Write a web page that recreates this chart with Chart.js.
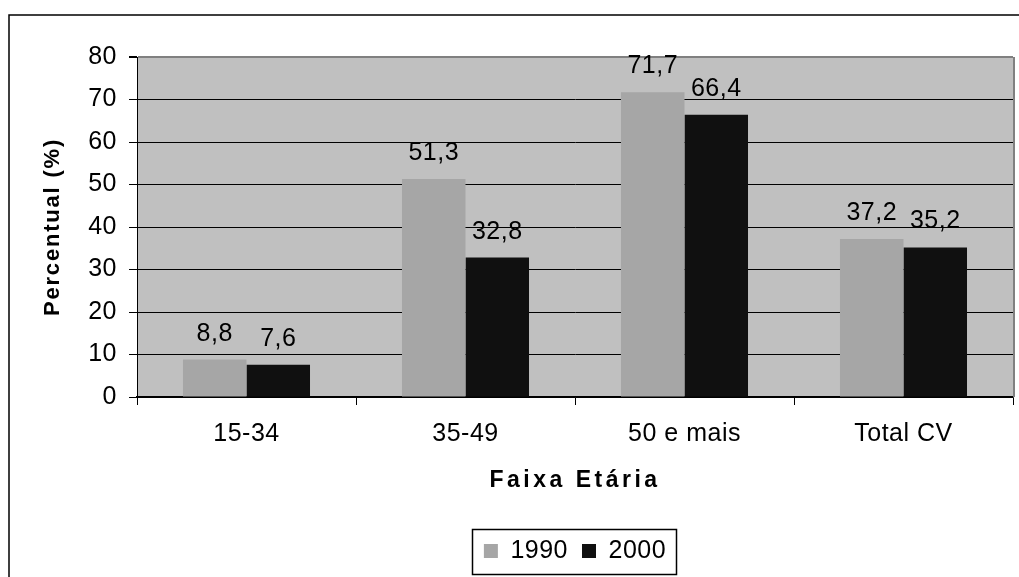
<!DOCTYPE html>
<html>
<head>
<meta charset="utf-8">
<title>Percentual por faixa etária</title>
<script src="https://cdn.jsdelivr.net/npm/chart.js@4.4.1/dist/chart.umd.min.js"></script>
<style>
  body { margin: 0; background: #fff; }
  canvas { display: block; }
</style>
</head>
<body>
<canvas id="myChart" width="1019" height="577"></canvas>
<script>
// Data
const categories = ['15-34', '35-49', '50 e mais', 'Total CV'];
const values1990 = [8.8, 51.3, 71.7, 37.2];
const values2000 = [7.6, 32.8, 66.4, 35.2];
const seriesNames = ['1990', '2000'];
const yTicks = [0, 10, 20, 30, 40, 50, 60, 70, 80];

const FONT = "'Liberation Sans', Arial, sans-serif";
const TEXT_SPACING = '0.5px';

Chart.defaults.font.family = FONT;
Chart.defaults.color = '#000';

// Backgrounds, frame, legend box and letter spacing
const framePlugin = {
    id: 'frame',
    beforeLayout(chart) {
        chart.ctx.letterSpacing = TEXT_SPACING;
    },
    afterLayout(chart) {
        const area = chart.chartArea;
        // centre the legend under the plot area, like the original
        chart.legend.left = area.left;
        chart.legend.right = area.right;

        [['x', '3.5px'], ['y', '1.8px']].forEach(([id, sp]) => {
            const s = chart.scales[id];
            if (s && !s._spaced) {
                const orig = s.drawTitle;
                s.drawTitle = function () {
                    const c = this.ctx;
                    const prev = c.letterSpacing;
                    c.letterSpacing = sp;
                    orig.call(this);
                    c.letterSpacing = prev;
                };
                s._spaced = true;
            }
        });
    },
    beforeDraw(chart) {
        const ctx = chart.ctx;
        const a = chart.chartArea;
        ctx.save();
        ctx.fillStyle = '#fff';
        ctx.fillRect(0, 0, chart.width, chart.height);
        // outer frame (top and left edges are visible)
        ctx.strokeStyle = '#000';
        ctx.lineWidth = 1.5;
        ctx.beginPath();
        ctx.moveTo(9, chart.height);
        ctx.lineTo(9, 15);
        ctx.lineTo(chart.width, 15);
        ctx.stroke();
        // plot area
        ctx.fillStyle = '#c0c0c0';
        ctx.fillRect(a.left, a.top, a.right - a.left, a.bottom - a.top);
        ctx.restore();
        ctx.letterSpacing = TEXT_SPACING;
    },
    beforeDatasetsDraw(chart) {
        const ctx = chart.ctx;
        const a = chart.chartArea;
        ctx.save();
        ctx.strokeStyle = '#808080';
        ctx.lineWidth = 2;
        ctx.beginPath();
        ctx.moveTo(a.right + 1, a.top);
        ctx.lineTo(a.right + 1, a.bottom);
        ctx.stroke();
        ctx.restore();
    },
    afterDatasetsDraw(chart) {
        // value labels above bars
        const ctx = chart.ctx;
        ctx.save();
        ctx.font = '25px ' + FONT;
        ctx.fillStyle = '#000';
        ctx.textAlign = 'center';
        ctx.textBaseline = 'alphabetic';
        chart.data.datasets.forEach((ds, i) => {
            const meta = chart.getDatasetMeta(i);
            meta.data.forEach((bar, j) => {
                const txt = ds.data[j].toFixed(1).replace('.', ',');
                ctx.fillText(txt, bar.x, bar.y - 19);
            });
        });
        ctx.restore();
    },
    afterDraw(chart) {
        // border round the legend
        const boxes = chart.legend.legendHitBoxes;
        if (!boxes || !boxes.length) return;
        const first = boxes[0];
        const last = boxes[boxes.length - 1];
        const cy = first.top + first.height / 2;
        const ctx = chart.ctx;
        ctx.save();
        ctx.strokeStyle = '#000';
        ctx.lineWidth = 1.5;
        const left = Math.round(first.left - 12) + 0.5;
        const right = Math.round(last.left + last.width + 10) + 0.5;
        ctx.strokeRect(left, Math.round(cy - 22) + 0.5, right - left, 45);
        ctx.restore();
    }
};

const ctx = document.getElementById('myChart').getContext('2d');
new Chart(ctx, {
    type: 'bar',
    data: {
        labels: categories,
        datasets: [{
            label: seriesNames[0],
            data: values1990,
            backgroundColor: '#a6a6a6',
            borderWidth: 0,
            barPercentage: 1,
            categoryPercentage: 0.58
        }, {
            label: seriesNames[1],
            data: values2000,
            backgroundColor: '#101010',
            borderWidth: 0,
            barPercentage: 1,
            categoryPercentage: 0.58
        }]
    },
    options: {
        responsive: false,
        animation: false,
        devicePixelRatio: 1,
        layout: {
            padding: { left: 30, top: 57, right: 6, bottom: 3.5 }
        },
        plugins: {
            tooltip: { enabled: false },
            legend: {
                position: 'bottom',
                labels: {
                    font: { size: 25 },
                    color: '#000',
                    boxWidth: 14,
                    boxHeight: 14,
                    padding: 14
                }
            }
        },
        scales: {
            x: {
                afterFit(scale) { scale.height = 127.5; },
                grid: {
                    display: true,
                    drawOnChartArea: false,
                    drawTicks: true,
                    tickLength: 8,
                    color: '#000',
                    offset: true
                },
                border: { display: true, color: '#000', width: 1.5 },
                ticks: {
                    font: { size: 25 },
                    color: '#000',
                    padding: 14,
                    maxRotation: 0
                },
                title: {
                    display: true,
                    text: 'Faixa Etária',
                    font: { size: 23, weight: 'bold' },
                    color: '#000',
                    padding: { top: 0, bottom: 30 }
                }
            },
            y: {
                min: yTicks[0],
                max: yTicks[yTicks.length - 1],
                afterFit(scale) { scale.width = 107; },
                grid: {
                    color: (c) => (c.tick && c.tick.value === yTicks[yTicks.length - 1]) ? '#808080' : '#000',
                    lineWidth: (c) => (c.tick && c.tick.value === yTicks[yTicks.length - 1]) ? 2 : 1,
                    tickColor: '#000',
                    tickLength: 8
                },
                border: { display: true, color: '#000', width: 1 },
                ticks: {
                    stepSize: yTicks[1] - yTicks[0],
                    font: { size: 25 },
                    color: '#000',
                    padding: 12
                },
                title: {
                    display: true,
                    text: 'Percentual (%)',
                    font: { size: 22, weight: 'bold' },
                    color: '#000',
                    padding: { top: 10, bottom: 0 }
                }
            }
        }
    },
    plugins: [framePlugin]
});
</script>
</body>
</html>
